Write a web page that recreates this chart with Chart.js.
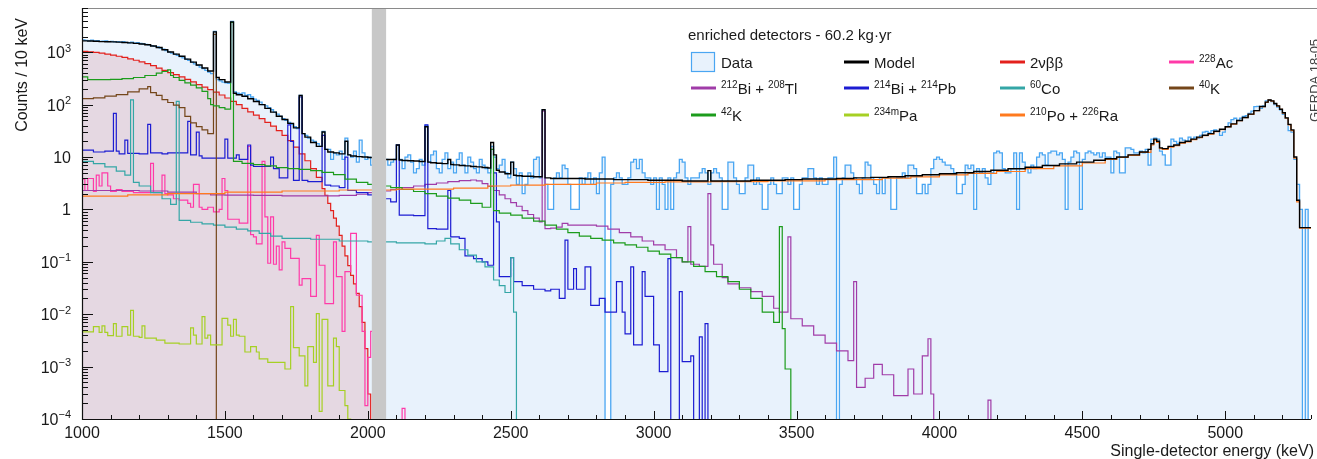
<!DOCTYPE html>
<html>
<head>
<meta charset="utf-8">
<script src="https://cdn.jsdelivr.net/npm/chart.js@4.4.1/dist/chart.umd.min.js"></script>
<style>
  html, body { margin: 0; padding: 0; background: #fff; }
  canvas { display: block; }
</style>
</head>
<body>
<canvas id="spectrum" width="1317" height="459"></canvas>
<script>
// --- axis ranges and markers ---
const xMin = 1000, xMax = 5300;
const yMin = 1e-4, yMax = 7000;
const binLo = 1000, binW = 10;
const blindWin = [2014, 2064];
const xMajorTicks = [1000, 1500, 2000, 2500, 3000, 3500, 4000, 4500, 5000];
const yDecades = [-4, -3, -2, -1, 0, 1, 2, 3];

// --- measured counts per 10 keV bin, 1000..5300 keV ---
const dataCounts = [
  1720,1690,1650,1700,1640,1660,1610,1630,1650,1600,
  1620,1580,1600,1560,1590,1540,1520,1560,1500,1520,
  1480,1440,1420,1390,1340,1300,1260,1200,1150,1080,
  1020,960,920,870,830,780,740,700,650,600,
  560,520,490,450,420,390,2500,300,285,270,
  262,255,3900,175,165,160,168,150,155,140,
  128,120,112,100,95,88,80,72,66,60,
  54,50,46,42,38,35,150,28,26,23,
  21,20,18,16,31,14,14,9,12,11,
  13,9,23,11,10,13,8,21,12,9,
  10,7,9,8,10,6,9,7,8,9,
  17,9,6,10,11,8,5,6,9,7,
  40,8,11,13,6,5,9,12,6,8,
  5,9,12,7,5,10,8,6,5,9,
  7,6,5,16,10,6,7,9,5,4,
  8,6,3,5,2,3,5,4,9,10,
  4,80,3,1,1,4,5,4,7,6,
  3,1,1,1,4,3,4,5,3,4,
  2,5,10,0,0,3,4,5,4,3,
  3,4,8,9,6,9,5,4,4,3,
  4,1,4,3,1,4,1,4,5,9,
  8,4,3,4,4,4,5,6,5,3,
  5,6,5,4,1,1,8,8,4,3,
  2,2,4,7,7,3,4,3,1,1,
  3,4,3,2,2,4,4,3,4,1,
  1,3,4,4,6,6,4,3,4,3,
  3,4,4,10,0,3,4,7,7,5,
  4,3,2,4,8,7,4,3,2,4,
  2,4,4,1,1,4,4,5,4,7,
  7,6,2,2,3,2,3,6,9,10,
  9,8,7,7,6,5,2,2,3,7,
  6,7,1,6,5,6,4,3,5,12,
  13,12,6,5,5,6,12,1,12,8,
  6,5,7,6,10,12,11,7,12,13,
  13,11,12,9,1,8,10,13,12,1,
  9,12,13,12,11,12,10,12,10,10,
  5,13,12,5,5,15,15,14,12,12,
  13,12,14,7,22,23,22,13,11,7,
  7,22,20,18,23,21,20,24,22,24,
  23,26,30,31,29,32,33,31,26,30,
  38,45,52,55,50,55,60,62,68,75,
  92,93,85,95,118,123,115,100,90,80,
  65,55,32,30,9,3,1,0,1,0
];

// --- model and components: [bin start keV, counts / 10 keV] ---
const modelSteps = [
  [1000,1650],[1020,1640],[1040,1620],[1060,1600],[1080,1590],[1100,1580],[1120,1560],[1140,1540],
  [1160,1510],[1180,1480],[1200,1440],[1220,1390],[1240,1320],[1260,1230],[1280,1120],[1300,1010],
  [1320,920],[1340,840],[1360,740],[1380,650],[1400,570],[1420,500],[1440,440],[1460,2450],[1470,330],
  [1480,300],[1500,270],[1520,3800],[1530,165],[1540,155],[1560,145],[1580,130],[1600,115],[1620,100],
  [1640,85],[1660,72],[1680,60],[1700,52],[1720,44],[1740,36],[1760,150],[1770,28],[1780,24],[1800,19],
  [1820,16],[1840,30],[1850,14],[1860,12.5],[1880,12],[1900,11.5],[1920,20],[1930,11],[1940,10.5],
  [1960,10.2],[1980,10],[2000,9.8],[2020,9.5],[2040,9.3],[2060,9],[2100,17],[2110,8.8],[2120,8.6],
  [2140,8.5],[2160,8.4],[2180,8.2],[2200,38],[2210,8],[2220,7.8],[2240,7.6],[2260,7.5],[2280,9],
  [2290,7.2],[2300,7.1],[2320,6.9],[2340,6.8],[2360,6.6],[2380,6.5],[2400,6.3],[2420,6.2],[2430,19],
  [2440,11],[2450,5.6],[2460,5.2],[2480,4.8],[2500,8],[2510,4.5],[2520,4.4],[2540,4.3],[2580,4.2],
  [2610,80],[2620,4.0],[2640,3.9],[2700,3.9],[2760,3.8],[2820,3.8],[2860,3.7],[2920,3.7],[2980,3.6],
  [3040,3.6],[3100,3.5],[3190,5.5],[3200,3.5],[3280,3.5],[3340,3.6],[3400,3.6],[3460,3.7],[3520,3.8],
  [3580,3.8],[3640,3.9],[3700,4.0],[3760,4.1],[3820,4.2],[3880,4.4],[3940,4.6],[4000,4.8],[4060,5.0],
  [4120,5.3],[4180,5.6],[4240,6.0],[4300,6.4],[4360,6.9],[4420,7.4],[4480,8.0],[4540,8.7],[4580,9.3],
  [4620,10],[4660,11],[4700,12.5],[4730,14],[4740,18],[4750,22],[4760,20],[4770,15],[4780,14.5],
  [4800,16],[4820,17],[4840,19],[4860,20],[4880,22],[4900,24],[4920,26],[4940,28],[4960,31],[4980,34],
  [5000,38],[5020,43],[5040,50],[5060,57],[5080,66],[5100,77],[5120,92],[5140,112],[5150,123],
  [5160,118],[5170,105],[5180,95],[5190,82],[5200,70],[5210,56],[5220,42],[5230,33],[5240,10],
  [5250,1.5],[5260,0.45],[5300,0.45]
];

const bbSteps = [
  [1000,1040],[1020,1020],[1040,995],[1060,960],[1080,925],[1100,885],[1120,840],[1140,800],
  [1160,750],[1180,705],[1200,655],[1220,605],[1240,555],[1260,500],[1280,450],[1300,410],[1320,375],
  [1340,340],[1360,305],[1380,272],[1400,242],[1420,217],[1440,194],[1460,174],[1480,153],[1500,134],
  [1520,116],[1540,100],[1560,85],[1580,73],[1600,63],[1620,54],[1640,46],[1660,39],[1680,32],
  [1700,26],[1720,20.5],[1740,15.5],[1760,11.5],[1780,8.5],[1800,6],[1820,4.1],[1840,2.5],[1850,1.85],
  [1860,1.3],[1870,0.95],[1880,0.68],[1890,0.48],[1900,0.32],[1910,0.2],[1920,0.13],[1930,0.085],
  [1940,0.055],[1950,0.038],[1960,0.025],[1970,0.014],[1980,0.007],[1990,0.0022],[2000,0.0003],[2010,0]
];

const ac228Steps = [
  [1000,3.8],[1010,2.3],[1020,3.9],[1040,2.2],[1050,4.5],[1060,2.8],[1070,5],[1090,2.8],[1100,2.2],
  [1120,2.4],[1140,2.2],[1180,2.1],[1240,7.6],[1250,2.1],[1280,4.5],[1290,2.0],[1300,1.9],[1320,1.6],
  [1340,1.5],[1370,1.3],[1380,1.1],[1390,3],[1410,1.1],[1420,1.0],[1440,1.1],[1460,0.9],[1480,1.0],
  [1490,3.9],[1500,2.3],[1510,0.65],[1550,0.55],[1580,16],[1590,0.33],[1600,0.3],[1610,0.22],
  [1630,8.3],[1640,0.72],[1650,0.094],[1660,0.72],[1670,0.09],[1680,0.2],[1690,0.07],[1700,0.24],
  [1710,0.18],[1730,0.116],[1760,0.036],[1770,0.048],[1800,0.022],[1820,0.32],[1830,0.086],
  [1850,0.016],[1880,0.24],[1890,0.052],[1910,0.0047],[1920,0.065],[1940,0.35],[1960,0.023],
  [1980,0.0047],[1990,0.00018],[2000,0.0015],[2010,0.0047],[2040,0.0005],[2050,0],[2120,0.00016],[2130,0]
];

const bi212Steps = [
  [1000,2.3],[1100,2.3],[1200,2.25],[1300,2.15],[1400,2.0],[1450,1.9],[1500,1.88],[1600,1.85],
  [1700,1.82],[1900,1.85],[1960,1.95],[2000,2.1],[2040,2.25],[2080,2.4],[2120,2.6],[2160,2.8],
  [2200,3.0],[2240,3.2],[2280,3.4],[2320,3.55],[2360,3.65],[2380,3.5],[2400,3.1],[2420,2.75],
  [2440,2.3],[2460,1.9],[2480,1.6],[2500,1.35],[2520,1.15],[2540,0.95],[2560,0.8],[2580,0.68],
  [2600,0.58],[2610,75],[2620,0.43],[2640,0.44],[2660,0.46],[2680,0.54],[2700,0.5],[2800,0.48],
  [2840,0.42],[2880,0.36],[2920,0.3],[2960,0.25],[3000,0.21],[3040,0.17],[3080,0.12],[3100,0.1],
  [3120,0.47],[3130,0.09],[3160,0.082],[3190,2.0],[3200,0.21],[3210,0.09],[3240,0.05],[3260,0.038],
  [3300,0.032],[3340,0.027],[3380,0.022],[3420,0.013],[3440,0.011],[3470,0.3],[3480,0.0082],
  [3520,0.006],[3560,0.004],[3600,0.0028],[3640,0.002],[3680,0.0013],[3700,0.042],[3710,0.0004],
  [3740,0.0006],[3770,0.0011],[3800,0.0007],[3840,0.00028],[3890,0.0009],[3910,0.0003],[3940,0.0016],
  [3960,0.0034],[3970,0.0003],[3980,0],[4170,0.00023],[4180,0]
];

const bi214Steps = [
  [1000,13.6],[1040,12.5],[1080,13],[1110,68],[1120,13],[1130,11.5],[1150,21],[1160,11.8],
  [1200,11.5],[1230,42],[1240,12],[1280,11.5],[1300,12],[1370,48],[1380,11],[1400,30],[1410,10.5],
  [1420,9.5],[1500,22],[1510,9.5],[1540,11],[1550,9],[1580,17],[1590,7],[1600,6.6],[1660,10],
  [1670,6],[1690,4],[1720,41],[1730,20],[1740,3.6],[1760,140],[1770,3.6],[1790,3.4],[1840,26],
  [1850,2.9],[1870,2.8],[1900,2.6],[1920,10],[1930,2.3],[1960,2.1],[2000,1.9],[2040,1.75],[2060,1.6],
  [2080,1.4],[2100,17],[2110,0.78],[2160,0.76],[2200,41],[2210,0.43],[2240,0.42],[2280,2.3],
  [2290,0.3],[2320,0.28],[2340,0.13],[2370,0.115],[2400,0.1],[2420,0.086],[2440,5],[2450,0.58],
  [2460,0.052],[2500,0.12],[2510,0.042],[2540,0.035],[2580,0.03],[2620,0.028],[2640,0.03],
  [2670,0.02],[2690,0.26],[2700,0.03],[2720,0.074],[2730,0.03],[2760,0.08],[2780,0.0147],[2810,0.02],
  [2830,0.011],[2870,0.042],[2890,0.011],[2900,0.0042],[2920,0.08],[2930,0.0026],[2960,0.065],
  [2970,0.022],[3000,0.0026],[3020,0.0008],[3050,0.115],[3060,0],[3090,0.027],[3100,0.00125],
  [3130,0.0016],[3140,0],[3160,0.0037],[3170,0],[3180,0.0066],[3190,0]
];

const co60Steps = [
  [1000,8.3],[1040,7.5],[1080,6.5],[1120,5.4],[1150,4.5],[1170,123],[1180,3.3],[1200,2.8],[1240,2.1],
  [1280,1.6],[1310,1.25],[1330,116],[1340,0.62],[1380,0.57],[1420,0.53],[1460,0.5],[1500,0.46],
  [1540,0.42],[1580,0.39],[1620,0.35],[1660,0.31],[1700,0.28],[1800,0.27],[1900,0.25],[2000,0.24],
  [2100,0.23],[2200,0.22],[2240,0.25],[2270,0.28],[2290,0.22],[2320,0.17],[2350,0.134],[2380,0.1],
  [2410,0.08],[2440,0.045],[2460,0.035],[2480,0.026],[2500,0.12],[2510,0.011],[2520,0]
];

const k40Steps = [
  [1000,130],[1040,135],[1080,145],[1120,155],[1160,175],[1200,200],[1230,220],[1240,170],[1260,150],
  [1280,125],[1300,110],[1320,98],[1340,88],[1360,60],[1380,45],[1400,38],[1420,33],[1440,28],
  [1460,2200],[1470,0]
];

const k42Steps = [
  [1000,340],[1020,300],[1100,305],[1140,315],[1180,330],[1220,360],[1260,400],[1280,430],[1300,460],
  [1310,360],[1320,330],[1340,290],[1360,260],[1380,235],[1400,210],[1420,180],[1440,130],[1450,100],
  [1460,95],[1480,88],[1500,82],[1520,3700],[1530,8.3],[1560,7.6],[1600,7.2],[1640,6.8],[1680,6.3],
  [1720,6],[1760,5.8],[1800,5.5],[1840,5.1],[1880,4.6],[1920,3.8],[1960,3.3],[2000,3],[2040,2.8],
  [2080,2.6],[2120,2.4],[2160,2.2],[2200,2.0],[2240,1.8],[2280,1.65],[2320,1.5],[2360,1.3],[2400,1.1],
  [2430,14],[2440,0.95],[2460,0.85],[2500,0.78],[2540,0.68],[2580,0.6],[2620,0.5],[2660,0.42],
  [2700,0.36],[2740,0.31],[2780,0.28],[2820,0.26],[2860,0.23],[2900,0.21],[2940,0.19],[2980,0.16],
  [3020,0.14],[3060,0.12],[3100,0.1],[3140,0.082],[3180,0.065],[3220,0.052],[3260,0.042],[3300,0.03],
  [3340,0.02],[3380,0.011],[3420,0.007],[3440,0.47],[3450,0.0053],[3460,0.0009],[3480,0]
];

const pa234Steps = [
  [1000,0.0046],[1040,0.0058],[1060,0.0045],[1070,0.006],[1080,0.0045],[1090,0.0039],[1110,0.0066],
  [1120,0.0038],[1140,0.0058],[1160,0.004],[1170,0.0118],[1180,0.0038],[1200,0.0036],[1210,0.006],
  [1220,0.0035],[1260,0.0032],[1290,0.0028],[1340,0.0027],[1380,0.0055],[1390,0.004],[1400,0.0027],
  [1420,0.009],[1430,0.0035],[1440,0.004],[1450,0.0026],[1490,0.0083],[1510,0.0062],[1520,0.0038],
  [1530,0.008],[1540,0.004],[1550,0.0038],[1570,0.0019],[1590,0.0024],[1610,0.0019],[1620,0.0014],
  [1650,0.0012],[1690,0.0012],[1710,0.0009],[1730,0.014],[1740,0.0023],[1760,0.0016],[1780,0.00043],
  [1790,0.0024],[1810,0.0012],[1820,0.0103],[1830,0.00014],[1840,0.008],[1860,0.00043],[1880,0.0035],
  [1890,0.0024],[1900,0.00035],[1920,0.00018],[1930,0.0001],[1940,0]
];

const po210Steps = [
  [1000,1.8],[1160,1.9],[1300,2.0],[1500,2.15],[1700,2.25],[1900,2.35],[2100,2.45],[2300,2.55],
  [2420,2.8],[2500,2.9],[2620,3.0],[2800,3.2],[2900,3.3],[3040,3.35],[3200,3.4],[3400,3.5],[3600,3.7],
  [3800,3.95],[3900,4.2],[4000,4.55],[4100,4.9],[4200,5.3],[4300,6.0],[4400,6.8],[4500,7.7],[4580,9],
  [4620,9.8],[4660,10.8],[4700,12.3],[4740,17],[4750,21],[4760,19],[4770,14.5],[4780,14],[4800,15.5],
  [4820,16.5],[4840,18.5],[4860,19.5],[4880,21.5],[4900,23.5],[4920,25.5],[4940,27.5],[4960,30.5],
  [4980,33.5],[5000,37.5],[5020,42.5],[5040,49.5],[5060,56.5],[5080,65.5],[5100,76.5],[5120,91.5],
  [5140,111],[5150,122],[5160,117],[5170,104],[5180,94],[5190,81],[5200,69],[5210,55],[5220,41],
  [5230,32],[5240,9.5],[5250,1.4],[5260,0.44],[5300,0.44]
];

// --- colours ---
const col = {
  data: '#4aa6f2', dataFill: '#e8f2fc', model: '#000000',
  bb: '#e3201c', bbFill: '#e5d8e2', ac228: '#ff3aa8', bi212: '#a03ca8',
  bi214: '#1c1cd2', co60: '#34a6a6', k40: '#74461a', k42: '#1c9c1c',
  pa234: '#a6d024', po210: '#ff7a1e'
};

// zero bins sit below the log axis floor
const lift = v => (v > 0 ? v : 1e-9);
const stepPts = steps => steps.map(([e, v]) => ({ x: e, y: lift(v) }));
const dataPts = dataCounts.map((v, i) => ({ x: binLo + i * binW, y: lift(v) }));
dataPts.push({ x: xMax, y: lift(dataCounts[dataCounts.length - 1]) });

function series(pts, color, extra) {
  return Object.assign({
    data: pts, borderColor: color, borderWidth: 1.2, stepped: true,
    pointRadius: 0, fill: false, tension: 0
  }, extra || {});
}

// index 0 is painted last, i.e. on top
const datasets = [
  series(stepPts(modelSteps), col.model, { borderWidth: 1.4 }),
  series(stepPts(po210Steps), col.po210),
  series(stepPts(pa234Steps), col.pa234),
  series(stepPts(k42Steps), col.k42),
  series(stepPts(k40Steps), col.k40),
  series(stepPts(co60Steps), col.co60),
  series(stepPts(bi214Steps), col.bi214),
  series(stepPts(bi212Steps), col.bi212),
  series(stepPts(ac228Steps), col.ac228),
  series(stepPts(bbSteps), col.bb, { fill: 'start', backgroundColor: col.bbFill }),
  series(dataPts, col.data, { fill: 'start', backgroundColor: col.dataFill, borderWidth: 1.3 })
];

// --- legend layout ---
const legendCols = [691, 844, 1000, 1169];
const legendRowsY = [62, 88, 115];
const legendItems = [
  { r: 0, c: 0, box: true, color: col.data, text: [['Data']] },
  { r: 0, c: 1, color: col.model, text: [['Model']] },
  { r: 0, c: 2, color: col.bb, text: [['2\u03bd\u03b2\u03b2']] },
  { r: 0, c: 3, color: col.ac228, text: [['228', 1], ['Ac']] },
  { r: 1, c: 0, color: col.bi212, text: [['212', 1], ['Bi + '], ['208', 1], ['Tl']] },
  { r: 1, c: 1, color: col.bi214, text: [['214', 1], ['Bi + '], ['214', 1], ['Pb']] },
  { r: 1, c: 2, color: col.co60, text: [['60', 1], ['Co']] },
  { r: 1, c: 3, color: col.k40, text: [['40', 1], ['K']] },
  { r: 2, c: 0, color: col.k42, text: [['42', 1], ['K']] },
  { r: 2, c: 1, color: col.pa234, text: [['234m', 1], ['Pa']] },
  { r: 2, c: 2, color: col.po210, text: [['210', 1], ['Po + '], ['226', 1], ['Ra']] }
];

const FONT = '"Liberation Sans", Arial, Helvetica, sans-serif';

function richWidth(ctx, parts, size) {
  let w = 0;
  for (const [t, s] of parts) {
    ctx.font = (s ? Math.round(size * 0.68) : size) + 'px ' + FONT;
    w += ctx.measureText(t).width;
  }
  return w;
}

function drawRich(ctx, parts, x, y, size) {
  let cx = x;
  ctx.textAlign = 'left';
  ctx.textBaseline = 'alphabetic';
  for (const [t, s] of parts) {
    ctx.font = (s ? Math.round(size * 0.68) : size) + 'px ' + FONT;
    ctx.fillText(t, cx, s ? y - size * 0.42 : y);
    cx += ctx.measureText(t).width;
  }
  return cx;
}

const decor = {
  id: 'decor',
  afterDatasetsDraw(chart) {
    const { ctx, chartArea: a, scales: { x } } = chart;
    const x0 = x.getPixelForValue(blindWin[0]);
    const x1 = x.getPixelForValue(blindWin[1]);
    ctx.save();
    ctx.fillStyle = '#c8c8c8';
    ctx.fillRect(x0, a.top, x1 - x0, a.bottom - a.top);
    ctx.restore();
  },
  afterDraw(chart) {
    const { ctx, chartArea: a, scales: { x, y } } = chart;
    const W = chart.width;
    ctx.save();

    // frame
    ctx.lineWidth = 1.2;
    ctx.strokeStyle = '#8a8a8a';
    ctx.beginPath();
    ctx.moveTo(a.left, a.top + 0.5);
    ctx.lineTo(W, a.top + 0.5);
    ctx.stroke();
    ctx.strokeStyle = '#111';
    ctx.beginPath();
    ctx.moveTo(a.left + 0.5, a.top);
    ctx.lineTo(a.left + 0.5, a.bottom + 0.5);
    ctx.lineTo(a.right, a.bottom + 0.5);
    ctx.stroke();

    // x ticks every 100 keV, labels on the 500s
    ctx.lineWidth = 1;
    ctx.beginPath();
    for (let e = xMin; e <= xMax; e += 100) {
      const px = Math.round(x.getPixelForValue(e)) + 0.5;
      const len = e % 500 === 0 ? 8 : 4;
      ctx.moveTo(px, a.bottom);
      ctx.lineTo(px, a.bottom - len);
    }
    // y ticks, decades and 2..9
    for (const d of yDecades) {
      for (let m = 1; m <= 9; m++) {
        const v = m * Math.pow(10, d);
        if (v > yMax) break;
        const py = Math.round(y.getPixelForValue(v)) + 0.5;
        ctx.moveTo(a.left, py);
        ctx.lineTo(a.left + (m === 1 ? 11 : 6), py);
      }
    }
    ctx.stroke();

    ctx.fillStyle = '#1a1a1a';
    ctx.font = '16px ' + FONT;
    ctx.textAlign = 'center';
    ctx.textBaseline = 'alphabetic';
    for (const e of xMajorTicks) {
      ctx.fillText(String(e), x.getPixelForValue(e), 438);
    }
    for (const d of yDecades) {
      const parts = d === 0 ? [['1']] : d === 1 ? [['10']] : [['10'], [String(d).replace('-', '\u2212'), 1]];
      const w = richWidth(ctx, parts, 16);
      drawRich(ctx, parts, 71 - w, y.getPixelForValue(Math.pow(10, d)) + 6, 16);
    }

    // axis titles
    ctx.font = '16px ' + FONT;
    ctx.textAlign = 'right';
    ctx.fillText('Single-detector energy (keV)', 1314, 456);
    ctx.save();
    ctx.translate(27, 18);
    ctx.rotate(-Math.PI / 2);
    ctx.fillText('Counts / 10 keV', 0, 0);
    ctx.restore();

    // legend
    ctx.textAlign = 'left';
    ctx.font = '15px ' + FONT;
    ctx.fillText('enriched detectors - 60.2 kg\u00b7yr', 688, 40);
    for (const it of legendItems) {
      const lx = legendCols[it.c];
      const ly = legendRowsY[it.r];
      if (it.box) {
        ctx.fillStyle = col.dataFill;
        ctx.fillRect(lx, ly - 10, 24, 20);
        ctx.strokeStyle = it.color;
        ctx.lineWidth = 1.2;
        ctx.strokeRect(lx + 0.5, ly - 9.5, 23, 19);
      } else {
        ctx.strokeStyle = it.color;
        ctx.lineWidth = 3;
        ctx.beginPath();
        ctx.moveTo(lx, ly);
        ctx.lineTo(lx + 25, ly);
        ctx.stroke();
      }
      ctx.fillStyle = '#1a1a1a';
      drawRich(ctx, it.text, lx + 30, ly + 6, 15);
    }

    // figure tag at the right border
    ctx.save();
    ctx.translate(1319, 122);
    ctx.rotate(-Math.PI / 2);
    ctx.font = '13px ' + FONT;
    ctx.fillStyle = '#444';
    ctx.textAlign = 'left';
    ctx.fillText('GERDA 18-05', 0, 0);
    ctx.restore();

    ctx.restore();
  }
};

new Chart(document.getElementById('spectrum'), {
  type: 'line',
  data: { datasets },
  options: {
    responsive: false,
    animation: false,
    devicePixelRatio: 1,
    events: [],
    layout: { padding: { left: 82, top: 8, right: 6, bottom: 40 } },
    scales: {
      x: { type: 'linear', min: xMin, max: xMax, bounds: 'data', display: false },
      y: { type: 'logarithmic', min: yMin, max: yMax, bounds: 'data', display: false }
    },
    plugins: { legend: { display: false }, tooltip: { enabled: false } }
  },
  plugins: [decor]
});
</script>
</body>
</html>
